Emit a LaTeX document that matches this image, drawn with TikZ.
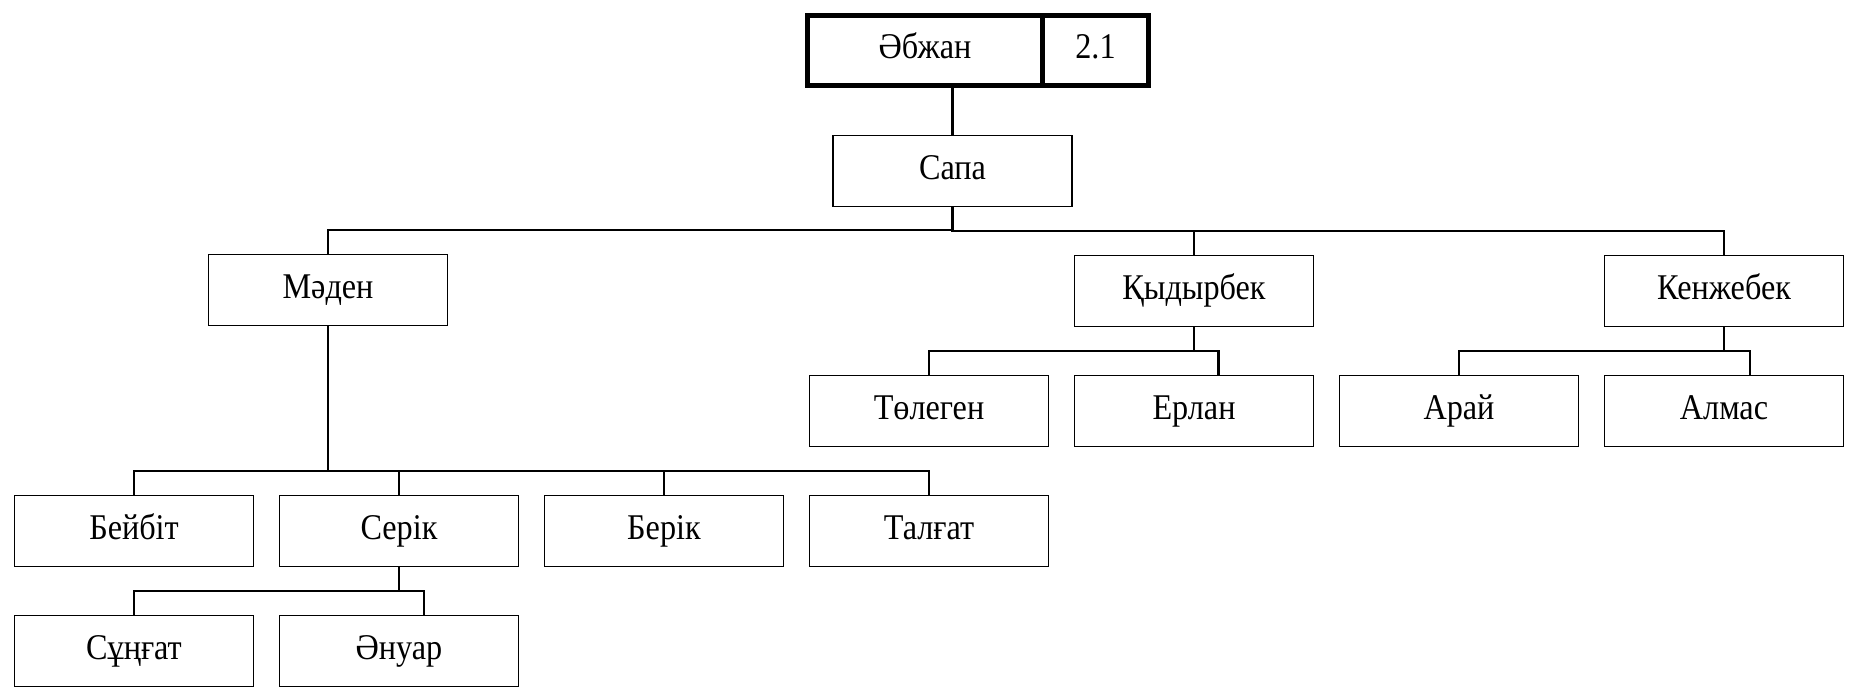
\documentclass[tikz,border=0pt]{standalone}
\usepackage{fontspec}
\setmainfont[FakeStretch=0.89]{Liberation Serif}
\usetikzlibrary{positioning}

\begin{document}
\begin{tikzpicture}[
    node distance=0.49cm and 0.26cm,
    person/.style={
      rectangle, draw=black, line width=0.5pt,
      minimum width=2.39cm, minimum height=0.71cm,
      inner sep=0pt, outer sep=0pt,
      text height=0.7em, text depth=0.22em,
      text centered, font=\fontsize{10.3}{12}\selectfont
    },
    head/.style={
      rectangle, draw=black, line width=1.2pt,
      minimum width=#1, minimum height=0.70cm,
      inner sep=0pt, outer sep=0pt,
      text height=0.7em, text depth=0.22em,
      text centered, font=\fontsize{10.3}{12}\selectfont
    },
    link/.style={draw=black, line width=0.6pt}
  ]

  \useasboundingbox (0,0) rectangle (18.49,-6.86);

  % ---- Grandchildren of Maden ----
  \node[person] (Beybit) at (1.34,-5.31) {Бейбіт};
  \node[person, right=of Beybit] (Serik)  {Серік};
  \node[person, right=of Serik]  (Berik)  {Берік};
  \node[person, right=of Berik]  (Talgat) {Талғат};

  % ---- Children of Serik ----
  \node[person, below=of Beybit] (Sungat) {Сұңғат};
  \node[person, below=of Serik]  (Anuar)  {Әнуар};

  % ---- Grandchildren of Kydyrbek / Kenzhebek ----
  \node[person, above=of Talgat]  (Tolegen) {Төлеген};
  \node[person, right=of Tolegen] (Erlan)   {Ерлан};
  \node[person, right=of Erlan]   (Arai)    {Арай};
  \node[person, right=of Arai]    (Almas)   {Алмас};

  % ---- Sons of Sapa ----
  \node[person, above=1.7cm of Beybit, xshift=1.94cm] (Maden) {Мәден};
  \node[person, above=of Erlan] (Kydyrbek)  {Қыдырбек};
  \node[person, above=of Almas] (Kenzhebek) {Кенжебек};

  % ---- Sapa and the head ----
  \node[person, above=of Kydyrbek, xshift=-2.415cm] (Sapa) {Сапа};
  \node[head=2.35cm, above=0.5cm of Sapa, xshift=-0.275cm] (Abzhan) {Әбжан};
  \node[head=1.06cm, right=0pt of Abzhan] (Num) {2.1};

  % ---- Connectors ----
  \draw[link] (Sapa.north) -- (Sapa.north |- Abzhan.south);
  \foreach \pa/\ch/\dx in {Sapa/Maden/0, Sapa/Kydyrbek/0, Sapa/Kenzhebek/0,
      Kydyrbek/Tolegen/0, Kydyrbek/Erlan/0.245,
      Kenzhebek/Arai/0, Kenzhebek/Almas/0.26,
      Maden/Beybit/0, Maden/Serik/0, Maden/Berik/0, Maden/Talgat/0,
      Serik/Sungat/0, Serik/Anuar/0.25}{
    \draw[link] ([xshift=\dx cm]\ch.north) -- ++(0,0.245) -| (\pa.south);
  }

\end{tikzpicture}
\end{document}
